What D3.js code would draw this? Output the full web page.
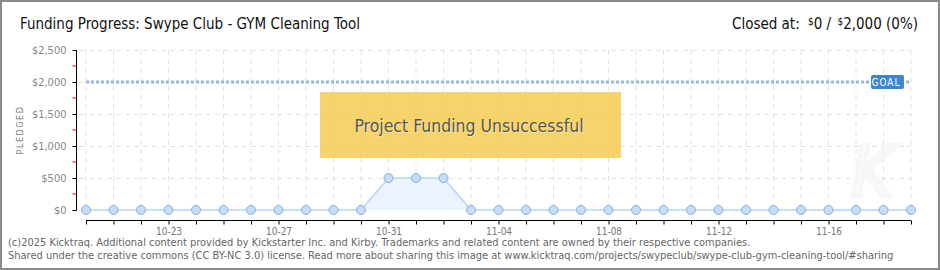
<!DOCTYPE html>
<html>
<head>
<meta charset="utf-8">
<script src="https://cdn.jsdelivr.net/npm/d3@7"></script>
<style>
  body { margin: 0; background: #fff; }
  #chart { width: 940px; height: 270px; }
  text { font-family: "DejaVu Sans Condensed", "DejaVu Sans", sans-serif; }
</style>
</head>
<body>
<div id="chart"></div>
<script>
// data
var days = ["10-20","10-21","10-22","10-23","10-24","10-25","10-26","10-27","10-28","10-29","10-30",
            "10-31","11-01","11-02","11-03","11-04","11-05","11-06","11-07","11-08","11-09","11-10",
            "11-11","11-12","11-13","11-14","11-15","11-16","11-17","11-18","11-19"];
var pledged = [0,0,0,0,0,0,0,0,0,0,0, 500,500,500, 0,0,0,0,0,0,0,0,0,0,0,0,0,0,0,0,0];
var labelDays = ["10-23","10-27","10-31","11-04","11-08","11-12","11-16"];
var yTicks = [0, 500, 1000, 1500, 2000, 2500];
var yMinor = [250, 750, 1250, 1750, 2250];
var goal = 2000;

function drawChart () {
    var width = 940, height = 270;

    var svg = d3.select("#chart").append("svg")
        .attr("width", width)
        .attr("height", height);

    // frame
    svg.append("rect")
        .attr("x", 1).attr("y", 1)
        .attr("width", width - 2).attr("height", height - 2)
        .attr("fill", "#fff").attr("stroke", "#8a8a8a").attr("stroke-width", 2);

    var x = d3.scalePoint().domain(days).range([86, 911]);
    var y = d3.scaleLinear().domain([0, 2500]).range([210, 50]);

    // grid
    svg.append("g").selectAll("line.v")
        .data(days).enter().append("line")
            .attr("x1", function(d) { return x(d); })
            .attr("x2", function(d) { return x(d); })
            .attr("y1", y(2500)).attr("y2", y(0))
            .attr("stroke", "#e2e2e2").attr("stroke-dasharray", "5,4");
    svg.append("g").selectAll("line.h")
        .data(yTicks.slice(1)).enter().append("line")
            .attr("x1", 80).attr("x2", 911)
            .attr("y1", function(d) { return y(d) + 0.5; })
            .attr("y2", function(d) { return y(d) + 0.5; })
            .attr("stroke", "#e2e2e2").attr("stroke-dasharray", "5,4");

    // faint watermark
    svg.append("text")
        .attr("x", 872).attr("y", 196)
        .attr("text-anchor", "middle")
        .attr("font-size", 70).attr("font-style", "italic")
        .attr("fill", "none").attr("stroke", "#f7f7f7").attr("stroke-width", 5)
        .text("K");

    // goal line
    svg.append("line")
        .attr("x1", 86).attr("x2", 911)
        .attr("y1", y(goal)).attr("y2", y(goal))
        .attr("stroke", "#98b8e2").attr("stroke-width", 3)
        .attr("stroke-dasharray", "3,2");
    var goalG = svg.append("g");
    goalG.append("rect")
        .attr("x", 871).attr("y", y(goal) - 7)
        .attr("width", 33).attr("height", 14).attr("rx", 2)
        .attr("fill", "#3d86d4");
    goalG.append("text")
        .attr("x", 886).attr("y", y(goal) + 4)
        .attr("text-anchor", "middle")
        .attr("font-size", 10).attr("fill", "#fff").attr("letter-spacing", 1)
        .text("GOAL");

    // area + line
    var pts = days.map(function(d, i) { return {d: d, v: pledged[i]}; });
    var area = d3.area()
        .x(function(p) { return x(p.d); })
        .y0(y(0))
        .y1(function(p) { return y(p.v); });
    var line = d3.line()
        .x(function(p) { return x(p.d); })
        .y(function(p) { return y(p.v); });
    svg.append("path").attr("d", area(pts)).attr("fill", "#ebf3fc");
    svg.append("path").attr("d", line(pts))
        .attr("fill", "none").attr("stroke", "#b5d5f5").attr("stroke-width", 1.5);
    svg.append("g").selectAll("circle")
        .data(pts).enter().append("circle")
            .attr("cx", function(p) { return x(p.d); })
            .attr("cy", function(p) { return y(p.v); })
            .attr("r", 4.5)
            .attr("fill", "#c4ddf8").attr("stroke", "#8eaed6").attr("stroke-width", 1);

    // y axis
    var yAxis = d3.axisLeft(y).tickValues(yTicks).tickSize(4).tickPadding(6)
        .tickFormat(function(d) { return "$" + d3.format(",")(d); });
    var ya = svg.append("g").attr("transform", "translate(76.5,0)").call(yAxis);
    ya.select(".domain").attr("stroke", "#000").attr("d", "M0," + y(2500) + "V" + (y(0) + 0.5));
    ya.selectAll(".tick line").attr("stroke", "#000");
    ya.selectAll(".tick text").attr("font-size", 11).attr("fill", "#888");
    ya.selectAll("line.minor")
        .data(yMinor).enter().append("line")
            .attr("x1", -4).attr("x2", 0)
            .attr("y1", function(d) { return y(d); })
            .attr("y2", function(d) { return y(d); })
            .attr("stroke", "#d00");

    svg.append("text")
        .attr("transform", "translate(23,130) rotate(-90)")
        .attr("text-anchor", "middle")
        .attr("font-size", 9).attr("fill", "#777").attr("letter-spacing", 1.5)
        .text("PLEDGED");

    // x axis
    var xAxis = d3.axisBottom(x).tickSize(4).tickPadding(3)
        .tickFormat(function(d) { return labelDays.indexOf(d) >= 0 ? d : ""; });
    var xa = svg.append("g").attr("transform", "translate(0,220.5)").call(xAxis);
    xa.select(".domain").attr("stroke", "#000").attr("d", "M86,0H911");
    xa.selectAll(".tick line").attr("stroke", "#000");
    xa.selectAll(".tick text").attr("font-size", 10).attr("fill", "#777");

    // unsuccessful banner
    svg.append("rect")
        .attr("x", 320).attr("y", 92)
        .attr("width", 301).attr("height", 66)
        .attr("fill", "#f5c94c").attr("opacity", 0.82);
    svg.append("text")
        .attr("x", 469).attr("y", 132)
        .attr("text-anchor", "middle")
        .attr("font-size", 17.5).attr("fill", "#fbe7a8")
        .attr("transform", "translate(1,1)")
        .text("Project Funding Unsuccessful");
    svg.append("text")
        .attr("x", 469).attr("y", 132)
        .attr("text-anchor", "middle")
        .attr("font-size", 17.5).attr("fill", "#555")
        .text("Project Funding Unsuccessful");

    // titles
    svg.append("text")
        .attr("x", 20).attr("y", 29)
        .attr("font-size", 15).attr("fill", "#111")
        .text("Funding Progress: Swype Club - GYM Cleaning Tool");
    var closed = svg.append("text")
        .attr("x", 918).attr("y", 29)
        .attr("text-anchor", "end")
        .attr("font-size", 15).attr("fill", "#111");
    closed.append("tspan").text("Closed at:  ");
    closed.append("tspan").attr("font-size", 10).attr("dy", -4).attr("dx", 4).text("$");
    closed.append("tspan").attr("dy", 4).text("0 /  ");
    closed.append("tspan").attr("font-size", 10).attr("dy", -4).attr("dx", 2).text("$");
    closed.append("tspan").attr("dy", 4).text("2,000 (0%)");

    // footer
    var foot = svg.append("g")
        .attr("font-size", 9.9).attr("fill", "#666");
    foot.append("text")
        .attr("x", 8).attr("y", 246)
        .style("font-family", "'DejaVu Sans', sans-serif")
        .text("(c)2025 Kicktraq. Additional content provided by Kickstarter Inc. and Kirby. Trademarks and related content are owned by their respective companies.");
    foot.append("text")
        .attr("x", 8).attr("y", 259)
        .style("font-family", "'DejaVu Sans', sans-serif")
        .text("Shared under the creative commons (CC BY-NC 3.0) license. Read more about sharing this image at www.kicktraq.com/projects/swypeclub/swype-club-gym-cleaning-tool/#sharing");
}

drawChart();
</script>
</body>
</html>
